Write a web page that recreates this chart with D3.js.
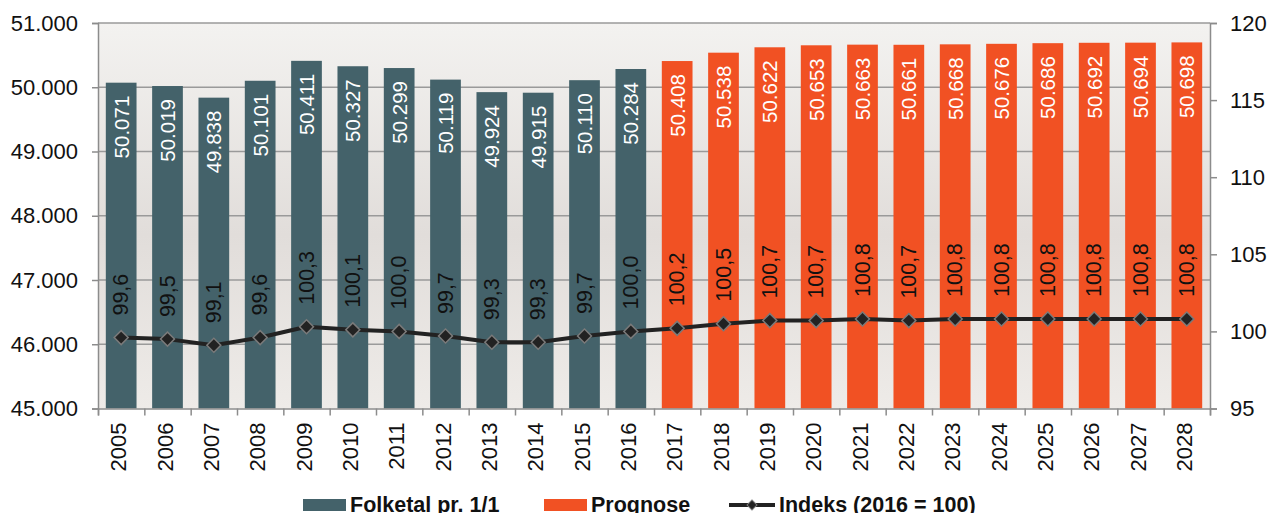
<!DOCTYPE html>
<html lang="da">
<head>
<meta charset="utf-8">
<title>Folketal og prognose</title>
<script src="https://cdn.jsdelivr.net/npm/d3@7"></script>
<style>
  body { margin: 0; background: #fff; }
  svg text { font-family: "Liberation Sans", Arial, sans-serif; }
  .axis .domain { stroke: #8c8c8c; stroke-width: 1.5; }
  .axis line { stroke: #8c8c8c; stroke-width: 1.5; }
  .axis text { font-size: 22px; fill: #111; }
</style>
</head>
<body>
<script>
// data
var years = ['2005','2006','2007','2008','2009','2010','2011','2012','2013','2014','2015','2016',
             '2017','2018','2019','2020','2021','2022','2023','2024','2025','2026','2027','2028'];
var folketal = [50071, 50019, 49838, 50101, 50411, 50327, 50299, 50119, 49924, 49915, 50110, 50284,
                50408, 50538, 50622, 50653, 50663, 50661, 50668, 50676, 50686, 50692, 50694, 50698];
var indeks = [99.6, 99.5, 99.1, 99.6, 100.3, 100.1, 100.0, 99.7, 99.3, 99.3, 99.7, 100.0,
              100.2, 100.5, 100.7, 100.7, 100.8, 100.7, 100.8, 100.8, 100.8, 100.8, 100.8, 100.8];
var firstPrognoseYear = '2017';
var leftTicks = [45000, 46000, 47000, 48000, 49000, 50000, 51000];
var rightTicks = [95, 100, 105, 110, 115, 120];
var legendItems = ['Folketal pr. 1/1', 'Prognose', 'Indeks (2016 = 100)'];

var width = 1268, height = 513;
var margin = { top: 23, right: 58, bottom: 104.5, left: 98 };
var innerWidth = width - margin.left - margin.right,
    innerHeight = height - margin.top - margin.bottom;

var colSlate = '#44626a', colOrange = '#f15123', colLine = '#222222';

var svg = d3.select('body').append('svg')
            .attr('width', width)
            .attr('height', height);

var defs = svg.append('defs');
var grad = defs.append('linearGradient').attr('id', 'bg').attr('x1', 0).attr('y1', 0).attr('x2', 0).attr('y2', 1);
grad.append('stop').attr('offset', '0%').attr('stop-color', '#f3f2f0');
grad.append('stop').attr('offset', '55%').attr('stop-color', '#e1ddda');
grad.append('stop').attr('offset', '100%').attr('stop-color', '#eeebe8');

var g = svg.append('g').attr('transform', 'translate(' + [margin.left, margin.top] + ')');

var x = d3.scaleBand().domain(years).range([0, innerWidth]).paddingInner(0.337).paddingOuter(0.1685);
var xEdge = d3.scaleLinear().domain([0, years.length]).range([0, innerWidth]);
var y = d3.scaleLinear().domain([45000, 51000]).range([innerHeight, 0]);
var y2 = d3.scaleLinear().domain([95, 120]).range([innerHeight, 0]);

// plot background
g.append('rect').attr('width', innerWidth).attr('height', innerHeight).attr('fill', 'url(#bg)');

// grid lines
g.selectAll('.grid').data(leftTicks.slice(1))
 .enter().append('line')
 .attr('class', 'grid')
 .attr('x1', 0).attr('x2', innerWidth)
 .attr('y1', function(d){ return y(d); }).attr('y2', function(d){ return y(d); })
 .attr('stroke', '#9a9a9a').attr('stroke-width', 1.5);

// bars
g.selectAll('.bar').data(years)
 .enter().append('rect')
 .attr('class', 'bar')
 .attr('x', function(d){ return x(d); })
 .attr('width', x.bandwidth())
 .attr('y', function(d, i){ return y(folketal[i]); })
 .attr('height', function(d, i){ return innerHeight - y(folketal[i]); })
 .attr('fill', function(d){ return +d >= +firstPrognoseYear ? colOrange : colSlate; });

// bar labels
var fmtPop = function(v){ return d3.format(',')(v).replace(/,/g, '.'); };
g.selectAll('.barlabel').data(years)
 .enter().append('text')
 .attr('class', 'barlabel')
 .attr('transform', function(d, i){ return 'translate(' + [x(d) + x.bandwidth() / 2, y(folketal[i]) + 13] + ') rotate(-90)'; })
 .attr('text-anchor', 'end')
 .attr('dominant-baseline', 'central')
 .attr('font-size', 20.5)
 .attr('fill', '#fff')
 .text(function(d, i){ return fmtPop(folketal[i]); });

// axes
var leftAxis = d3.axisLeft(y).tickValues(leftTicks).tickSize(6).tickPadding(14)
                 .tickFormat(function(d){ return fmtPop(d); });
g.append('g').attr('class', 'axis').call(leftAxis);

var rightAxis = d3.axisRight(y2).tickValues(rightTicks).tickSize(7).tickPadding(13);
g.append('g').attr('class', 'axis').attr('transform', 'translate(' + innerWidth + ',0)').call(rightAxis);

var edgeAxis = d3.axisBottom(xEdge).tickValues(d3.range(years.length + 1)).tickSize(7).tickFormat('');
g.append('g').attr('class', 'axis').attr('transform', 'translate(0,' + innerHeight + ')').call(edgeAxis);

var yearAxis = d3.axisBottom(x).tickSize(0).tickPadding(0);
var ya = g.append('g').attr('class', 'axis').attr('transform', 'translate(0,' + innerHeight + ')').call(yearAxis);
ya.select('.domain').remove();
ya.selectAll('text')
  .attr('y', 0).attr('dy', null)
  .attr('transform', 'translate(-2.5,14) rotate(-90)')
  .attr('text-anchor', 'end')
  .attr('dominant-baseline', 'central');

// index line
var line = d3.line()
             .x(function(d){ return x(d) + x.bandwidth() / 2; })
             .y(function(d, i){ return y2(indeks[i]); });
g.append('path').datum(years)
 .attr('d', line)
 .attr('fill', 'none')
 .attr('stroke', colLine)
 .attr('stroke-width', 4)
 .attr('stroke-linejoin', 'round');

var diamond = d3.symbol().type(d3.symbolSquare).size(98);
g.selectAll('.marker').data(years)
 .enter().append('path')
 .attr('class', 'marker')
 .attr('d', diamond)
 .attr('transform', function(d, i){ return 'translate(' + [x(d) + x.bandwidth() / 2, y2(indeks[i])] + ') rotate(45)'; })
 .attr('fill', colLine)
 .attr('stroke', '#7a7a7a')
 .attr('stroke-width', 1.5);

var fmtIdx = function(v){ return v.toFixed(1).replace('.', ','); };
g.selectAll('.idxlabel').data(years)
 .enter().append('text')
 .attr('class', 'idxlabel')
 .attr('transform', function(d, i){ return 'translate(' + [x(d) + x.bandwidth() / 2, y2(indeks[i]) - 22] + ') rotate(-90)'; })
 .attr('text-anchor', 'start')
 .attr('dominant-baseline', 'central')
 .attr('font-size', 21.5)
 .attr('fill', '#111')
 .text(function(d, i){ return fmtIdx(indeks[i]); });

// legend
var legend = svg.append('g').attr('transform', 'translate(0,505)');
legend.append('rect').attr('x', 303).attr('y', -6).attr('width', 43).attr('height', 12).attr('fill', colSlate);
legend.append('rect').attr('x', 544).attr('y', -6).attr('width', 43).attr('height', 12).attr('fill', colOrange);
legend.append('line').attr('x1', 729).attr('x2', 775).attr('y1', 0).attr('y2', 0)
      .attr('stroke', colLine).attr('stroke-width', 4);
legend.append('path').attr('d', d3.symbol().type(d3.symbolSquare).size(50))
      .attr('transform', 'translate(752,0) rotate(45)')
      .attr('fill', colLine).attr('stroke', '#7a7a7a').attr('stroke-width', 1);
legend.selectAll('.legtext').data(legendItems)
      .enter().append('text')
      .attr('class', 'legtext')
      .attr('x', function(d, i){ return [350, 591, 779][i]; })
      .attr('y', 0)
      .attr('dominant-baseline', 'central')
      .attr('font-size', 21.5)
      .attr('font-weight', 'bold')
      .attr('fill', '#111')
      .text(function(d){ return d; });
</script>
</body>
</html>
